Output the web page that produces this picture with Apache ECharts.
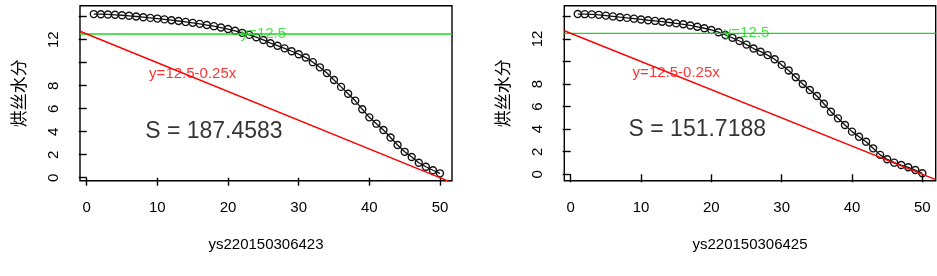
<!DOCTYPE html>
<html>
<head>
<meta charset="utf-8">
<script src="https://cdn.jsdelivr.net/npm/echarts@6/dist/echarts.min.js"></script>
<style>
html,body{margin:0;padding:0;background:#fff;}
#chart{width:937px;height:276px;}
</style>
</head>
<body>
<div id="chart"></div>
<script>
// ---- data ----
const sampleIndex = [1,2,3,4,5,6,7,8,9,10,11,12,13,14,15,16,17,18,19,20,21,22,23,24,25,26,27,28,29,30,31,32,33,34,35,36,37,38,39,40,41,42,43,44,45,46,47,48,49,50];
const moistureA = [14.23,14.22,14.20,14.17,14.13,14.08,14.02,13.96,13.90,13.84,13.77,13.70,13.63,13.55,13.47,13.38,13.28,13.18,13.06,12.93,12.78,12.60,12.42,12.22,11.98,11.70,11.48,11.25,11.00,10.74,10.45,10.05,9.60,9.10,8.50,7.90,7.30,6.70,5.95,5.25,4.70,4.15,3.50,2.85,2.25,1.80,1.30,0.95,0.65,0.38];
const moistureB = [14.21,14.20,14.18,14.14,14.07,14.00,13.93,13.87,13.80,13.73,13.66,13.60,13.53,13.46,13.38,13.30,13.20,13.08,12.95,12.80,12.60,12.35,12.10,11.82,11.50,11.15,10.87,10.57,10.20,9.70,9.20,8.60,8.00,7.47,6.94,6.25,5.55,4.96,4.37,3.78,3.33,2.89,2.30,1.72,1.33,1.03,0.82,0.62,0.38,0.09];
const panelNames = ['ys220150306423','ys220150306425'];
const areaValues = ['187.4583','151.7188'];
const yTitle = '烘丝水分';
const xTickValues = [0,10,20,30,40,50];
const yTickValues = [0,2,4,6,8,10,12,14];
const yTickLabelValues = [0,2,4,6,8,12];
const levelValue = 12.5;
const lineIntercept = 12.5;
const lineSlope = -0.25;
const levelText = 'y=12.5';
const lineText = 'y=12.5-0.25x';
const levelTextPos = [25, 12.5];
const lineTextPos = [15, 9];
const areaTextPos = [18, 4];

// ---- layout ----
const panels = [
  {values: moistureA, left: 80, width: 372, xMin: -0.95, xMax: 51.7, yMin: -0.26, yMax: 14.96},
  {values: moistureB, left: 564.3, width: 371.4, xMin: -0.91, xMax: 51.9, yMin: -0.57, yMax: 14.95}
];
const gridTop = 5.7, gridHeight = 175;
const font = 'Liberation Sans, Arial, sans-serif';
const greenColor = '#1ed81e';
const redColor = '#ff0000';

const grids = [], xAxes = [], yAxes = [], series = [];
panels.forEach((p, i) => {
  grids.push({left: p.left, top: gridTop, width: p.width, height: gridHeight, show: true,
    borderColor: '#000', borderWidth: 1.4, backgroundColor: 'transparent', containLabel: false, outerBoundsMode: 'none'});
  xAxes.push({type: 'value', gridIndex: i, min: p.xMin, max: p.xMax,
    name: panelNames[i], nameLocation: 'middle', nameGap: 57,
    nameTextStyle: {color: '#000', fontSize: 15, fontFamily: font},
    axisLine: {show: false},
    axisTick: {show: true, inside: false, length: 8, customValues: xTickValues, lineStyle: {color: '#000', width: 1.4}},
    axisLabel: {show: true, margin: 20, color: '#000', fontSize: 15, fontFamily: font, customValues: xTickValues},
    splitLine: {show: false}});
  yAxes.push({type: 'value', gridIndex: i, min: p.yMin, max: p.yMax,
    name: yTitle, nameLocation: 'middle', nameGap: 53,
    nameTextStyle: {color: '#000', fontSize: 17, fontFamily: 'Noto Sans CJK SC, sans-serif'},
    axisLine: {show: false},
    axisTick: {show: true, inside: false, length: 8, customValues: yTickValues, lineStyle: {color: '#000', width: 1.4}},
    axisLabel: {show: true, margin: 19, rotate: 90, color: '#000', fontSize: 15, fontFamily: font, customValues: yTickLabelValues},
    splitLine: {show: false}});
  // curve
  series.push({type: 'line', xAxisIndex: i, yAxisIndex: i, z: 3,
    data: sampleIndex.map((x, k) => [x, p.values[k]]),
    symbol: 'circle', symbolSize: 7, showSymbol: true,
    itemStyle: {color: 'rgba(0,0,0,0)', borderColor: '#111', borderWidth: 1.4},
    lineStyle: {color: '#111', width: 1.3}, animation: false, silent: true});
  // horizontal level
  series.push({type: 'line', xAxisIndex: i, yAxisIndex: i, z: 4,
    data: [[p.xMin, levelValue], [p.xMax, levelValue]], symbol: 'none',
    lineStyle: {color: greenColor, width: 1.4}, animation: false, silent: true});
  // sloped reference line
  series.push({type: 'line', xAxisIndex: i, yAxisIndex: i, z: 4, clip: true,
    data: [[p.xMin, lineIntercept + lineSlope * p.xMin], [p.xMax, lineIntercept + lineSlope * p.xMax]], symbol: 'none',
    lineStyle: {color: redColor, width: 1.4}, animation: false, silent: true});
  // text annotations
  series.push({type: 'scatter', xAxisIndex: i, yAxisIndex: i, z: 5, symbolSize: 1,
    itemStyle: {color: 'rgba(0,0,0,0)'}, animation: false, silent: true,
    label: {show: true, position: 'inside', fontFamily: font},
    data: [
      {value: lineTextPos, label: {formatter: lineText, color: redColor, fontSize: 15}},
      {value: levelTextPos, label: {formatter: levelText, color: greenColor, fontSize: 15}},
      {value: areaTextPos, label: {formatter: 'S = ' + areaValues[i], color: '#000', fontSize: 23}}
    ]});
});

const chart = echarts.init(document.getElementById('chart'), null, {renderer: 'canvas'});
chart.setOption({animation: false, backgroundColor: '#fff', grid: grids, xAxis: xAxes, yAxis: yAxes, series: series});
</script>
</body>
</html>
